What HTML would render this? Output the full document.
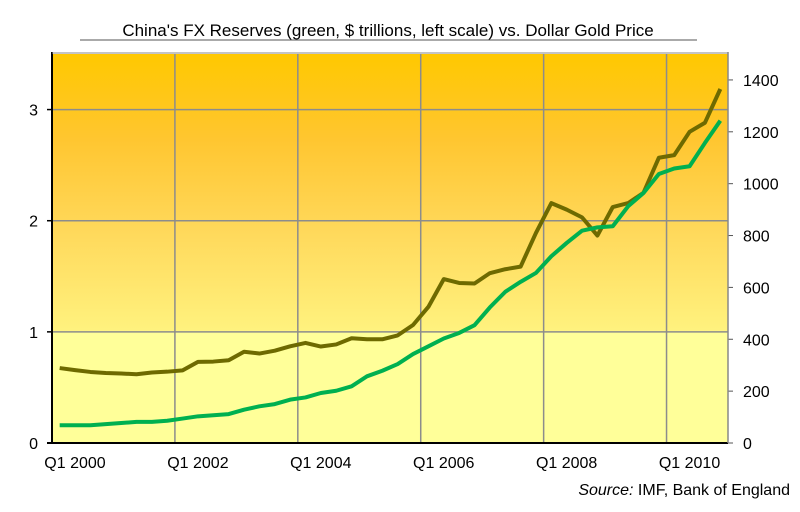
<!DOCTYPE html>
<html><head><meta charset="utf-8"><style>
body{margin:0;background:#fff;width:800px;height:507px;overflow:hidden;font-family:"Liberation Sans",Arial,sans-serif}
</style></head><body>
<svg id="chart" width="800" height="507" xmlns="http://www.w3.org/2000/svg" font-family="Liberation Sans, Arial, sans-serif">
<defs>
<linearGradient id="bg" x1="0" y1="0" x2="0" y2="1">
<stop offset="0" stop-color="#ffc800"/>
<stop offset="0.22" stop-color="#ffc630"/>
<stop offset="0.45" stop-color="#ffd85a"/>
<stop offset="0.71" stop-color="#fff27e"/>
<stop offset="0.715" stop-color="#ffff99"/>
<stop offset="1" stop-color="#ffff99"/>
</linearGradient>
</defs>
<text x="388" y="36" text-anchor="middle" font-size="17" fill="#000">China's FX Reserves (green, $ trillions, left scale) vs. Dollar Gold Price</text>
<line x1="80" y1="40" x2="697" y2="40" stroke="#555" stroke-width="1"/>
<rect x="52" y="54" width="676" height="389" fill="url(#bg)"/>
<g id="grid"></g>
<g id="axes"></g>
<g id="series"></g>
<text x="790" y="495" text-anchor="end" font-size="16" fill="#000"><tspan font-style="italic">Source:</tspan> IMF, Bank of England</text>
</svg>
<script>
const fxReserves=[0.16,0.16,0.16,0.17,0.18,0.19,0.19,0.20,0.22,0.24,0.25,0.26,0.30,0.33,0.35,0.39,0.41,0.45,0.47,0.51,0.60,0.65,0.71,0.80,0.87,0.94,0.99,1.06,1.22,1.36,1.45,1.53,1.68,1.80,1.91,1.94,1.95,2.13,2.25,2.42,2.47,2.49,2.70,2.90];
const goldPrice=[289,281,274,270,268,265,272,275,280,313,314,319,352,345,356,373,386,372,380,404,400,400,415,455,525,632,617,615,655,670,680,810,925,900,870,800,910,925,965,1100,1110,1200,1235,1365];
const leftTicks=[0,1,2,3];
const rightTicks=[0,200,400,600,800,1000,1200,1400];
const xTickLabels=["Q1 2000","Q1 2002","Q1 2004","Q1 2006","Q1 2008","Q1 2010"];
const xTickQuarters=[0,8,16,24,32,40];

const L=52,R=728,T=54,B=443,NQ=44;
const xS=q=>L+(R-L)*q/NQ;
const yL=v=>B-(B-T)*v/3.5;
const yR=v=>B-(B-T)*v/1500;
const NS="http://www.w3.org/2000/svg";
function mk(tag,attrs,parent){const e=document.createElementNS(NS,tag);for(const k in attrs)e.setAttribute(k,attrs[k]);parent.appendChild(e);return e;}
const grid=document.getElementById('grid'),axes=document.getElementById('axes'),series=document.getElementById('series');
leftTicks.forEach(v=>{
  if(v>0){const g=mk('line',{x1:L,x2:R,y1:yL(v),y2:yL(v),stroke:'#8c8c8c','stroke-width':1.5},grid);
  
  }
  mk('line',{x1:L-5,x2:L,y1:yL(v),y2:yL(v),stroke:'#000','stroke-width':1.5},axes);
  const t=mk('text',{x:L-14,y:yL(v)+6,'text-anchor':'end','font-size':16,fill:'#000'},axes);
  t.textContent=v;
  
  
});
rightTicks.forEach(v=>{
  mk('line',{x1:R,x2:R+5,y1:yR(v),y2:yR(v),stroke:'#555','stroke-width':1},axes);
  const t=mk('text',{x:R+15,y:yR(v)+6,'font-size':16,fill:'#000'},axes);
  t.textContent=v;
  
  
});
xTickQuarters.forEach((q,i)=>{
  if(q>0){const g=mk('line',{x1:xS(q),x2:xS(q),y1:T,y2:B,stroke:'#8c8c8c','stroke-width':1.5},grid);
  
  }
  const t=mk('text',{x:xS(q)+23,y:B+25,'text-anchor':'middle','font-size':16,fill:'#000'},axes);
  t.textContent=xTickLabels[i];
  
  
});
mk('line',{x1:L,x2:L,y1:T-2,y2:B,stroke:'#000','stroke-width':2},axes);
mk('line',{x1:L-5,x2:R,y1:B,y2:B,stroke:'#000','stroke-width':2},axes);
mk('line',{x1:R,x2:R,y1:T-2,y2:B,stroke:'#888','stroke-width':1.5},axes);
mk('line',{x1:L,x2:R,y1:T-1,y2:T-1,stroke:'#888','stroke-width':1},axes);
const gp=mk('polyline',{points:goldPrice.map((v,i)=>xS(i+0.5)+','+yR(v)).join(' '),fill:'none',stroke:'#6e6a00','stroke-width':4,'stroke-linejoin':'round'},series);


const fx=mk('polyline',{points:fxReserves.map((v,i)=>xS(i+0.5)+','+yL(v)).join(' '),fill:'none',stroke:'#00b050','stroke-width':4,'stroke-linejoin':'round'},series);


</script>
</body></html>
